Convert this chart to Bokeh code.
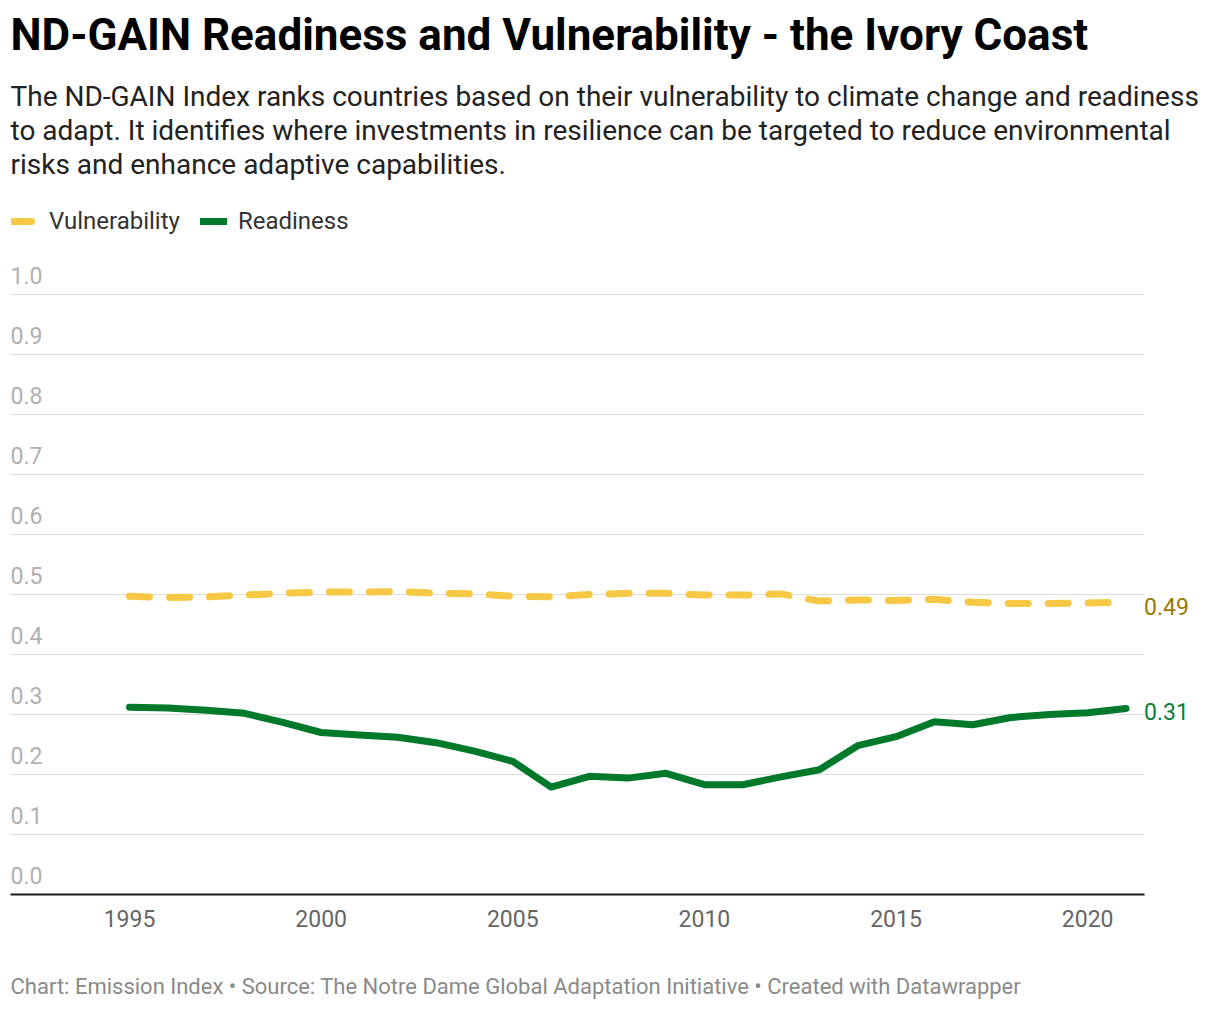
from bokeh.plotting import figure
from bokeh.models import (Range1d, Grid, Label, LabelSet, ColumnDataSource,
                          Legend, LegendItem)
from bokeh.core.properties import value
from bokeh.embed import file_html
from bokeh.resources import INLINE

# ---------------- data ----------------
years = list(range(1995, 2022))
vulnerability = [0.497, 0.495, 0.496, 0.499, 0.502, 0.504, 0.504, 0.505, 0.502, 0.501,
                 0.497, 0.496, 0.500, 0.502, 0.502, 0.499, 0.499, 0.501, 0.489, 0.491,
                 0.490, 0.492, 0.487, 0.485, 0.485, 0.486, 0.487]
readiness = [0.312, 0.311, 0.307, 0.302, 0.287, 0.270, 0.266, 0.262, 0.253, 0.239,
             0.222, 0.179, 0.197, 0.194, 0.202, 0.183, 0.183, 0.196, 0.208, 0.248,
             0.263, 0.288, 0.283, 0.295, 0.300, 0.303, 0.310]
series_names = ["Vulnerability", "Readiness"]
x_ticks = [1995, 2000, 2005, 2010, 2015, 2020]
x_tick_labels = ["1995", "2000", "2005", "2010", "2015", "2020"]
y_ticks = [0.0, 0.1, 0.2, 0.3, 0.4, 0.5, 0.6, 0.7, 0.8, 0.9, 1.0]
y_tick_labels = ["0.0", "0.1", "0.2", "0.3", "0.4", "0.5", "0.6", "0.7", "0.8", "0.9", "1.0"]

title_text = "ND-GAIN Readiness and Vulnerability - the Ivory Coast"
subtitle_lines = [
    "The ND-GAIN Index ranks countries based on their vulnerability to climate change and readiness",
    "to adapt. It identifies where investments in resilience can be targeted to reduce environmental",
    "risks and enhance adaptive capabilities.",
]
footer_text = ("Chart: Emission Index \u2022 Source: The Notre Dame Global Adaptation Initiative "
               "\u2022 Created with Datawrapper")

# ---------------- layout (pixels) ----------------
W, H = 1212, 1004
PX_PER_YEAR = 38.327      # horizontal scale
X0_PX = 129               # pixel position of first year
PX_PER_UNIT = 600         # vertical scale
Y0_PX = 894               # pixel position (from top) of value 0
PLOT_LEFT, PLOT_RIGHT = 10, 1144

x_start = years[0] - X0_PX / PX_PER_YEAR
x_end = x_start + W / PX_PER_YEAR
y_start = -(H - Y0_PX) / PX_PER_UNIT
y_end = Y0_PX / PX_PER_UNIT
gx0 = x_start + PLOT_LEFT / PX_PER_YEAR
gx1 = x_start + PLOT_RIGHT / PX_PER_YEAR

FONT = "Roboto"
YELLOW = "#f7c843"
GREEN = "#00792b"

p = figure(width=W, height=H, output_backend="svg", toolbar_location=None,
           x_range=Range1d(x_start, x_end), y_range=Range1d(y_start, y_end),
           x_axis_location=None, y_axis_location=None,
           min_border_left=0, min_border_right=0, min_border_top=0, min_border_bottom=0)
p.outline_line_color = None
p.background_fill_color = "white"
p.border_fill_color = "white"
p.center = [r for r in p.center if not isinstance(r, Grid)]

# gridlines (limited to plot width)
n = len(y_ticks)
p.segment(x0=[gx0] * n, y0=y_ticks, x1=[gx1] * n, y1=y_ticks,
          line_color="#dedede", line_width=1)

r_v = p.line(years, vulnerability, line_color=YELLOW, line_width=7, line_dash="20 20",
             line_cap="round", line_join="round")
r_r = p.line(years, readiness, line_color=GREEN, line_width=7,
             line_cap="round", line_join="round")

# x axis baseline
p.segment(x0=[gx0], y0=[y_ticks[0]], x1=[gx1], y1=[y_ticks[0]],
          line_color="#1a1a1a", line_width=2)

# x tick labels
xsrc = ColumnDataSource(dict(x=x_ticks, text=x_tick_labels))
p.add_layout(LabelSet(x="x", y=0, text="text", source=xsrc, y_offset=-32,
                      text_align="center", text_baseline="alphabetic",
                      text_font=value(FONT), text_font_size="23px", text_color="#666666"))

# y tick labels above gridlines
ysrc = ColumnDataSource(dict(y=y_ticks, text=y_tick_labels))
p.add_layout(LabelSet(x=PLOT_LEFT, y="y", text="text", source=ysrc, x_units="screen",
                      y_units="data", y_offset=11, text_baseline="alphabetic",
                      text_font=value(FONT), text_font_size="23px", text_color="#b0b0b0"))

# end labels
p.add_layout(Label(x=years[-1], y=vulnerability[-1], text=f"{vulnerability[-1]:.2f}",
                   x_offset=18, y_offset=-4, text_baseline="middle", text_font=FONT,
                   text_font_size="23px", text_color="#9c7800"))
p.add_layout(Label(x=years[-1], y=readiness[-1], text=f"{readiness[-1]:.2f}",
                   x_offset=18, y_offset=-3, text_baseline="middle", text_font=FONT,
                   text_font_size="23px", text_color="#0d7f34"))

# legend
legend = Legend(items=[LegendItem(label=series_names[0], renderers=[r_v]),
                       LegendItem(label=series_names[1], renderers=[r_r])],
                orientation="horizontal", location=(PLOT_LEFT + 1, H - 235),
                padding=0, margin=0, spacing=20, glyph_width=27, glyph_height=26,
                label_height=26, label_standoff=11,
                border_line_color=None, background_fill_alpha=0,
                label_text_font=FONT, label_text_font_size="24px", label_text_color="#333333")
p.add_layout(legend)

# title, subtitle, footer (vertical position = text middle)
p.add_layout(Label(x=PLOT_LEFT, y=H - 34, x_units="screen", y_units="screen", text=title_text,
                   text_font=FONT, text_font_style="bold", text_font_size="44px",
                   text_color="#000000", text_baseline="middle"))
for i, line in enumerate(subtitle_lines):
    p.add_layout(Label(x=PLOT_LEFT, y=H - 96 - 34 * i, x_units="screen", y_units="screen",
                       text=line, text_font=FONT, text_font_size="28px", text_color="#222222",
                       text_baseline="middle"))
p.add_layout(Label(x=PLOT_LEFT, y=H - 986, x_units="screen", y_units="screen", text=footer_text,
                   text_font=FONT, text_font_size="22px", text_color="#8a8a8a",
                   text_baseline="middle"))

open("out.html", "w").write(file_html(p, INLINE))
